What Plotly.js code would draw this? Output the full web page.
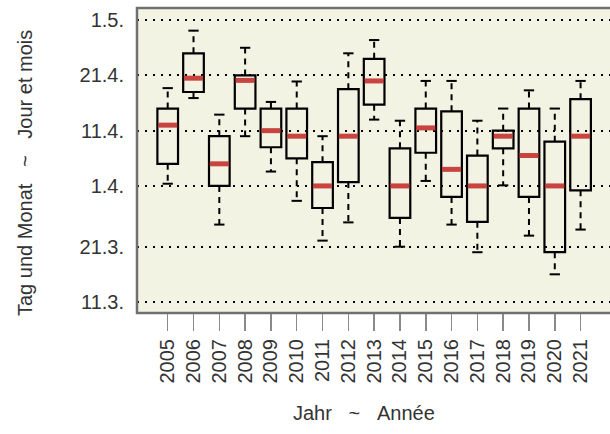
<!DOCTYPE html>
<html>
<head>
<meta charset="utf-8">
<script src="https://cdn.plot.ly/plotly-3.0.1.min.js"></script>
<style>
  html, body { margin: 0; padding: 0; background: #ffffff; }
  #chart { width: 610px; height: 434px; }
</style>
</head>
<body>
<div id="chart"></div>
<script>
// Years (categories)
const years = [2005, 2006, 2007, 2008, 2009, 2010, 2011, 2012, 2013, 2014, 2015, 2016, 2017, 2018, 2019, 2020, 2021];
// Values are day of year (1.3. = day 60, non-leap)
const lowerWhisker = [91.4, 106.9, 84.0, 100.0, 93.6, 88.3, 81.1, 84.4, 103.0, 80.0, 91.9, 84.0, 79.0, 91.1, 82.0, 75.0, 83.1];
const q1Values     = [95.0, 108.0, 91.0, 105.0, 98.0, 96.0, 87.0, 91.7, 105.7, 85.2, 97.0, 89.0, 84.5, 97.8, 89.0, 79.0, 90.2];
const medianValues = [102.0, 110.5, 95.0, 110.1, 101.0, 100.0, 91.0, 100.0, 110.0, 91.0, 101.5, 94.0, 91.0, 100.0, 96.5, 91.0, 100.0];
const q3Values     = [105.0, 115.0, 100.0, 111.0, 105.0, 105.0, 95.3, 108.5, 114.0, 97.8, 105.0, 104.5, 96.5, 101.0, 105.0, 99.0, 106.7];
const upperWhisker = [108.7, 119.1, 103.9, 116.0, 106.2, 109.9, 100.0, 115.0, 117.4, 102.8, 110.0, 110.0, 102.8, 105.0, 108.3, 105.0, 110.0];
// Y tick positions (day of year) and labels
const yTickDays   = [70, 80, 91, 101, 111, 121];
const yTickLabels = ['11.3.', '21.3.', '1.4.', '11.4.', '21.4.', '1.5.'];

const boxWidth = 0.8;
const capHalf = 0.2;
const medHalf = 0.37;

const traces = [];

// Boxes (no built-in whiskers)
traces.push({
  type: 'box',
  x: years,
  q1: q1Values,
  median: medianValues,
  q3: q3Values,
  lowerfence: q1Values,
  upperfence: q3Values,
  width: boxWidth,
  whiskerwidth: 0,
  boxpoints: false,
  fillcolor: 'rgba(0,0,0,0)',
  line: { color: '#000000', width: 2.2 },
  hoverinfo: 'skip',
  showlegend: false
});

// Dashed whiskers
const wx = [], wy = [];
years.forEach((yr, i) => {
  wx.push(yr, yr, null, yr, yr, null);
  wy.push(q3Values[i], upperWhisker[i], null, q1Values[i], lowerWhisker[i], null);
});
traces.push({
  type: 'scatter', mode: 'lines', x: wx, y: wy,
  line: { color: '#000000', width: 2, dash: '6px,5px' },
  hoverinfo: 'skip', showlegend: false
});

// Caps
const cx = [], cy = [];
years.forEach((yr, i) => {
  cx.push(yr - capHalf, yr + capHalf, null, yr - capHalf, yr + capHalf, null);
  cy.push(upperWhisker[i], upperWhisker[i], null, lowerWhisker[i], lowerWhisker[i], null);
});
traces.push({
  type: 'scatter', mode: 'lines', x: cx, y: cy,
  line: { color: '#000000', width: 2 },
  hoverinfo: 'skip', showlegend: false
});

// Red medians
const mx = [], my = [];
years.forEach((yr, i) => {
  mx.push(yr - medHalf, yr + medHalf, null);
  my.push(medianValues[i], medianValues[i], null);
});
traces.push({
  type: 'scatter', mode: 'lines', x: mx, y: my,
  line: { color: '#c8443f', width: 5 },
  hoverinfo: 'skip', showlegend: false
});

const fontFam = 'Liberation Sans, Arial, sans-serif';
const txtColor = '#333333';

const layout = {
  width: 610, height: 434,
  margin: { l: 137, r: 0, t: 8, b: 121 },
  paper_bgcolor: '#ffffff',
  plot_bgcolor: '#f3f3e3',
  showlegend: false,
  font: { family: fontFam, size: 20, color: txtColor },
  xaxis: {
    range: [2003.81, 2022.14],
    tickvals: years,
    ticktext: years.map(String),
    tickangle: -90,
    ticks: 'outside', ticklen: 17, tickwidth: 1.5, tickcolor: '#8a8a8a',
    showgrid: false, zeroline: false, showline: false,
    tickfont: { family: fontFam, size: 20, color: txtColor }
  },
  yaxis: {
    range: [68, 123.2],
    tickvals: yTickDays,
    ticktext: yTickLabels,
    ticks: '', ticklabelstandoff: 12,
    showgrid: true, gridcolor: '#000000', gridwidth: 2, griddash: '2px,6px',
    zeroline: false, showline: false,
    tickfont: { family: fontFam, size: 20, color: txtColor }
  },
  shapes: [{
    type: 'rect', xref: 'paper', yref: 'paper',
    x0: 0, x1: 1.02, y0: 0, y1: 1,
    line: { color: '#707070', width: 2.5 },
    fillcolor: 'rgba(0,0,0,0)', layer: 'above'
  }],
  annotations: [
    {
      xref: 'paper', yref: 'paper', x: (25 - 137) / 473, y: (313 - 173) / 305,
      text: 'Tag und Monat\u00a0\u00a0\u00a0~\u00a0\u00a0\u00a0Jour et mois',
      textangle: -90, showarrow: false, xanchor: 'center', yanchor: 'middle',
      font: { family: fontFam, size: 20, color: txtColor }
    },
    {
      xref: 'paper', yref: 'paper', x: (364 - 137) / 473, y: (313 - 413) / 305,
      text: 'Jahr\u00a0\u00a0\u00a0~\u00a0\u00a0\u00a0Année',
      showarrow: false, xanchor: 'center', yanchor: 'middle',
      font: { family: fontFam, size: 20, color: txtColor }
    }
  ]
};

Plotly.newPlot('chart', traces, layout, { staticPlot: true, displayModeBar: false });
</script>
</body>
</html>
